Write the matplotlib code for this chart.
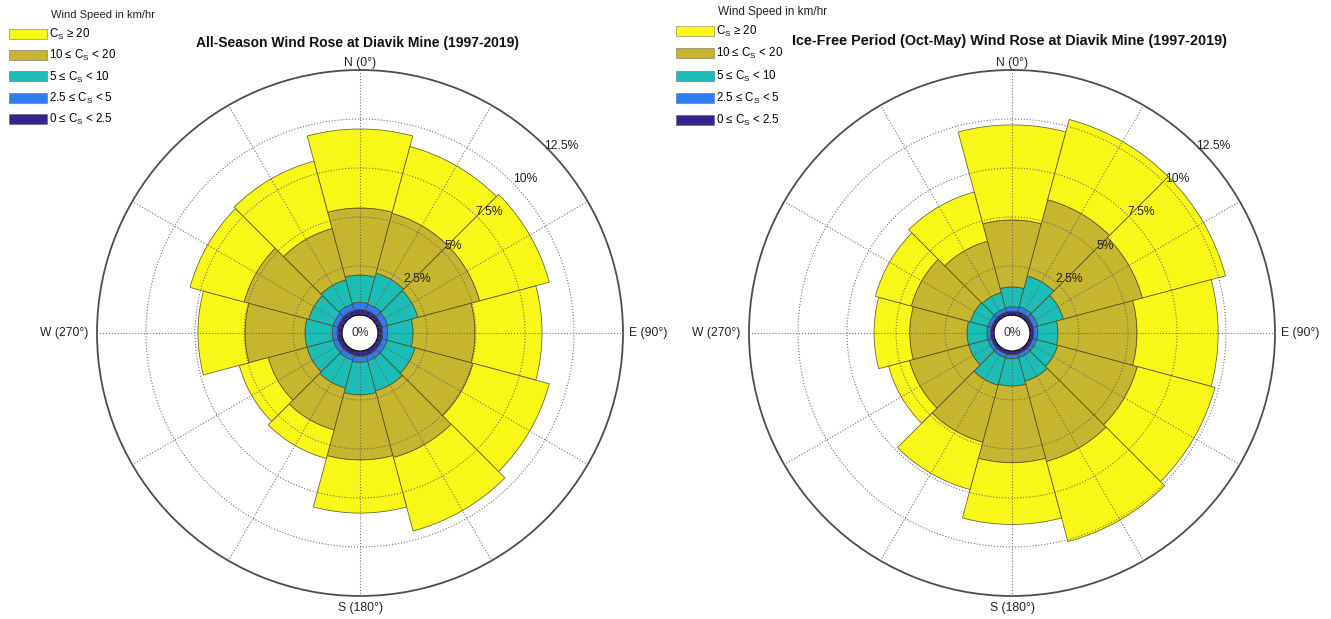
import numpy as np
import matplotlib
matplotlib.use("Agg")
import matplotlib.pyplot as plt
from matplotlib.patches import Patch

plt.rcParams['font.family'] = ['Liberation Sans', 'DejaVu Sans']

# Direction sectors (degrees, clockwise from North), 30-degree bins
directions_deg = [0, 30, 60, 90, 120, 150, 180, 210, 240, 270, 300, 330]

# Frequency (%) per speed class and direction -- all-season record
all_season_0_2p5 = [0.28, 0.27, 0.25, 0.25, 0.25, 0.27, 0.28, 0.25, 0.25, 0.25, 0.25, 0.27]
all_season_2p5_5 = [0.37, 0.33, 0.30, 0.25, 0.27, 0.28, 0.30, 0.27, 0.25, 0.25, 0.25, 0.33]
all_season_5_10 = [1.39, 1.64, 1.59, 1.29, 1.47, 1.59, 1.66, 1.47, 1.39, 1.39, 1.29, 1.29]
all_season_10_20 = [3.42, 3.16, 3.26, 3.16, 3.06, 3.52, 3.32, 2.21, 2.04, 3.06, 3.41, 2.71]
all_season_20_up = [4.03, 3.53, 3.68, 3.42, 4.03, 3.88, 2.71, 1.51, 1.53, 2.40, 2.86, 3.56]

# Frequency (%) per speed class and direction -- ice-free period (Oct-May)
ice_free_0_2p5 = [0.20, 0.22, 0.21, 0.20, 0.19, 0.19, 0.20, 0.19, 0.18, 0.18, 0.18, 0.19]
ice_free_2p5_5 = [0.22, 0.26, 0.24, 0.20, 0.19, 0.19, 0.20, 0.19, 0.18, 0.18, 0.18, 0.19]
ice_free_5_10 = [1.01, 1.62, 1.35, 1.03, 1.12, 1.25, 1.39, 1.46, 1.02, 1.02, 0.92, 0.84]
ice_free_10_20 = [3.42, 4.02, 4.17, 4.03, 4.20, 4.24, 3.91, 3.01, 3.12, 2.92, 3.12, 2.71]
ice_free_20_up = [4.85, 4.24, 4.39, 4.14, 4.10, 4.23, 3.15, 2.50, 1.10, 1.82, 1.90, 2.60]

class_labels = [
    '0 \u2264 C$_\\mathregular{S}$ < 2.5',
    '2.5 \u2264 C$_\\mathregular{S}$ < 5',
    '5 \u2264 C$_\\mathregular{S}$ < 10',
    '10 \u2264 C$_\\mathregular{S}$ < 20',
    'C$_\\mathregular{S}$ \u2265 20',
]
class_colors = ['#35238f', '#2f7df6', '#1cbdb4', '#c6b52f', '#f8f818']

ring_ticks = [2.5, 5, 7.5, 10, 12.5]
compass_labels = ['N (0\u00b0)', 'E (90\u00b0)', 'S (180\u00b0)', 'W (270\u00b0)']

EDGE = (0.28, 0.27, 0.12, 0.85)
R_MAX = 12.5
R_ORIGIN = -0.918
LABEL_FS = 8.7


def draw_rose(ax, class_freqs):
    theta = np.deg2rad(directions_deg)
    width = np.deg2rad(360.0 / len(directions_deg))
    bottom = np.zeros(len(theta))
    for freq, color in zip(class_freqs, class_colors):
        freq = np.asarray(freq, dtype=float)
        ax.bar(theta, freq, width=width, bottom=bottom, color=color,
               edgecolor=EDGE, linewidth=0.55, align='center')
        bottom = bottom + freq

    ax.set_theta_zero_location('N')
    ax.set_theta_direction(-1)
    ax.set_ylim(0, R_MAX)
    ax.set_rorigin(R_ORIGIN)
    ax.set_rgrids(ring_ticks[:-1])
    ax.set_thetagrids(range(0, 360, 30))
    ax.set_xticklabels([])
    ax.set_yticklabels([])
    ax.grid(True, color='#5e5e5e', linestyle=':', linewidth=0.8, alpha=0.85)
    ax.set_axisbelow(False)
    ax.spines['polar'].set_color('#4d4d4d')
    ax.spines['polar'].set_linewidth(1.3)
    ax.spines['inner'].set_visible(False)

    label_angle = np.deg2rad(47)
    for v in ring_ticks:
        ax.text(label_angle, v + 0.6, f'{v:g}%', ha='center', va='center',
                fontsize=LABEL_FS, color='#222222', clip_on=False, zorder=5)
    ax.text(0.5, 0.5, '0%', transform=ax.transAxes, ha='center', va='center',
            fontsize=LABEL_FS, color='#333333', zorder=5)

    kw = dict(xycoords='axes fraction', textcoords='offset points',
              fontsize=LABEL_FS, color='#222222')
    ax.annotate(compass_labels[0], xy=(0.5, 1.0), xytext=(0, 1), ha='center', va='bottom', **kw)
    ax.annotate(compass_labels[1], xy=(1.0, 0.5), xytext=(4, 0), ha='left', va='center', **kw)
    ax.annotate(compass_labels[2], xy=(0.5, 0.0), xytext=(0, -4), ha='center', va='top', **kw)
    ax.annotate(compass_labels[3], xy=(0.0, 0.5), xytext=(-6, 0), ha='right', va='center', **kw)


def add_legend(fig, x_px, y_px, title_y_px, spacing, title_fs):
    W, H = fig.get_size_inches() * fig.dpi
    handles = [Patch(facecolor=c, edgecolor=(0.3, 0.3, 0.3, 0.6), linewidth=0.5)
               for c in class_colors[::-1]]
    fig.legend(handles, class_labels[::-1], loc='upper left',
               bbox_to_anchor=(x_px / W, 1 - y_px / H), frameon=False,
               fontsize=8.3, handlelength=3.3, handleheight=0.95,
               labelspacing=spacing, handletextpad=0.15, borderpad=0,
               borderaxespad=0)
    fig.text((x_px + 42) / W, 1 - title_y_px / H, 'Wind Speed in km/hr',
             fontsize=title_fs, ha='left', va='center', color='#222222')


fig = plt.figure(figsize=(13.31, 6.19), dpi=100)
W, H = 1331, 619
R_PX = 263


def polar_rect(cx, cy):
    return [(cx - R_PX) / W, 1 - (cy + R_PX) / H, 2 * R_PX / W, 2 * R_PX / H]


ax1 = fig.add_axes(polar_rect(360, 333), projection='polar')
draw_rose(ax1, [all_season_0_2p5, all_season_2p5_5, all_season_5_10,
                all_season_10_20, all_season_20_up])
ax2 = fig.add_axes(polar_rect(1012, 333), projection='polar')
draw_rose(ax2, [ice_free_0_2p5, ice_free_2p5_5, ice_free_5_10,
                ice_free_10_20, ice_free_20_up])

fig.text(358 / W, 1 - 43 / H, 'All-Season Wind Rose at Diavik Mine (1997-2019)',
         ha='center', va='center', fontsize=10.0, fontweight='bold', color='#111111')
fig.text(1010 / W, 1 - 41 / H,
         'Ice-Free Period (Oct-May) Wind Rose at Diavik Mine (1997-2019)',
         ha='center', va='center', fontsize=10.4, fontweight='bold', color='#111111')

add_legend(fig, 9, 27, 15, 0.53, 8.0)
add_legend(fig, 676, 24, 12, 0.62, 8.5)

fig.savefig('out.png', dpi=100, facecolor='white')
